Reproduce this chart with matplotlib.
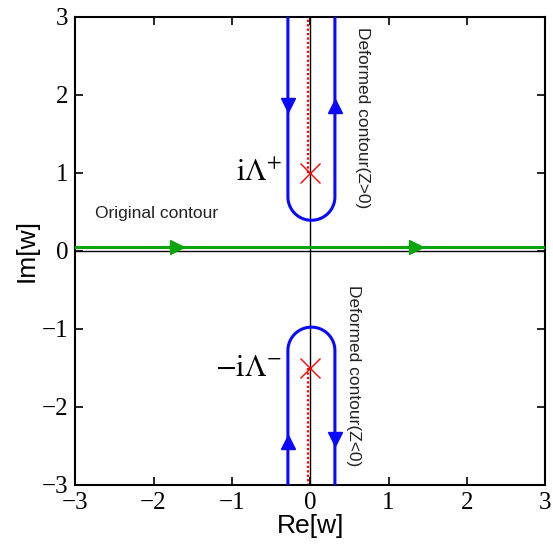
import numpy as np
import matplotlib
matplotlib.use("Agg")
import matplotlib.pyplot as plt

plt.rcParams["mathtext.fontset"] = "stix"

# pole positions and contour geometry
pole_x = -0.03
pole_up = 1.0
pole_dn = -1.5
loop_left = -0.285
loop_right = 0.315
loop_r = 0.30
upper_turn = 0.69     # y where the upper loop starts to bend
lower_turn = -1.28    # y where the lower loop starts to bend
green_y = 0.05
green_arrows_x = [-1.7, 1.35]
upper_arrows_y = [1.87, 1.85]   # left (down), right (up)
lower_arrows_y = [-2.45, -2.42] # left (up), right (down)
ticks = [-3, -2, -1, 0, 1, 2, 3]

fig = plt.figure(figsize=(5.53, 5.54), dpi=100)
ax = fig.add_axes([0.136, 0.125, 0.850, 0.845])

# axis lines
ax.axhline(0, color="black", lw=1.0, zorder=1)
ax.axvline(0, color="black", lw=1.0, zorder=1)

# original contour
ax.plot([-3, 3], [green_y, green_y], color="#0aa50a", lw=2.2, zorder=3)
for gx in green_arrows_x:
    ax.plot(gx, green_y, marker=">", color="#0aa50a", ms=10, zorder=4)

# upper deformed contour
xc = (loop_left + loop_right) / 2
t = np.linspace(np.pi, 2 * np.pi, 60)
arc_x = xc + loop_r * np.cos(t)
arc_y = upper_turn + loop_r * np.sin(t)
ux = np.concatenate([[loop_left], arc_x, [loop_right]])
uy = np.concatenate([[3], arc_y, [3]])
ax.plot(ux, uy, color="#0a0aff", lw=2.2, zorder=3)
ax.plot(loop_left, upper_arrows_y[0], marker="v", color="#0a0aff", ms=10, zorder=4)
ax.plot(loop_right, upper_arrows_y[1], marker="^", color="#0a0aff", ms=10, zorder=4)

# lower deformed contour
t2 = np.linspace(np.pi, 0, 60)
arc_x2 = xc + loop_r * np.cos(t2)
arc_y2 = lower_turn + loop_r * np.sin(t2)
lx = np.concatenate([[loop_left], arc_x2, [loop_right]])
ly = np.concatenate([[-3], arc_y2, [-3]])
ax.plot(lx, ly, color="#0a0aff", lw=2.2, zorder=3)
ax.plot(loop_left, lower_arrows_y[0], marker="^", color="#0a0aff", ms=10, zorder=4)
ax.plot(loop_right, lower_arrows_y[1], marker="v", color="#0a0aff", ms=10, zorder=4)

# branch cuts
ax.plot([pole_x, pole_x], [pole_up, 3], color="red", lw=1.6, ls=(0, (1, 1)), zorder=2)
ax.plot([pole_x, pole_x], [pole_dn, -3], color="red", lw=1.6, ls=(0, (1, 1)), zorder=2)

# poles
ax.plot([0, 0], [pole_up, pole_dn], ls="none", marker="x",
        color="red", ms=14, mew=1.0, zorder=5)

ax.text(-0.36, pole_up, r"$\mathrm{i}\Lambda^{+}$", ha="right", va="center",
        fontsize=22)
ax.text(-0.36, pole_dn, r"$-\mathrm{i}\Lambda^{-}$", ha="right", va="center",
        fontsize=22)
ax.text(-2.75, 0.48, "Original contour", ha="left", va="center",
        fontsize=12.5, family="Liberation Sans", color="#222222")
ax.text(0.67, 1.7, "Deformed contour(Z>0)", rotation=270, ha="center",
        va="center", fontsize=12.5, family="Liberation Sans", color="#222222")
ax.text(0.55, -1.6, "Deformed contour(Z<0)", rotation=270, ha="center",
        va="center", fontsize=12.5, family="Liberation Sans", color="#222222")

ax.set_xlim(-3, 3)
ax.set_ylim(-3, 3)
ax.set_xticks(ticks)
ax.set_yticks(ticks)
ax.set_xticklabels([f"{v}".replace("-", "\u2212") for v in ticks],
                   fontsize=18, family="Liberation Serif")
ax.set_yticklabels([f"{v}".replace("-", "\u2212") for v in ticks],
                   fontsize=18, family="Liberation Serif")
ax.tick_params(direction="in", top=True, right=True, length=6, width=1.2, pad=5)
for s in ax.spines.values():
    s.set_linewidth(1.5)
ax.set_xlabel("Re[w]", fontsize=19, family="Liberation Sans", labelpad=0)
ax.set_ylabel("Im[w]", fontsize=19, family="Liberation Sans", labelpad=2)

fig.savefig("out.png", dpi=100)
